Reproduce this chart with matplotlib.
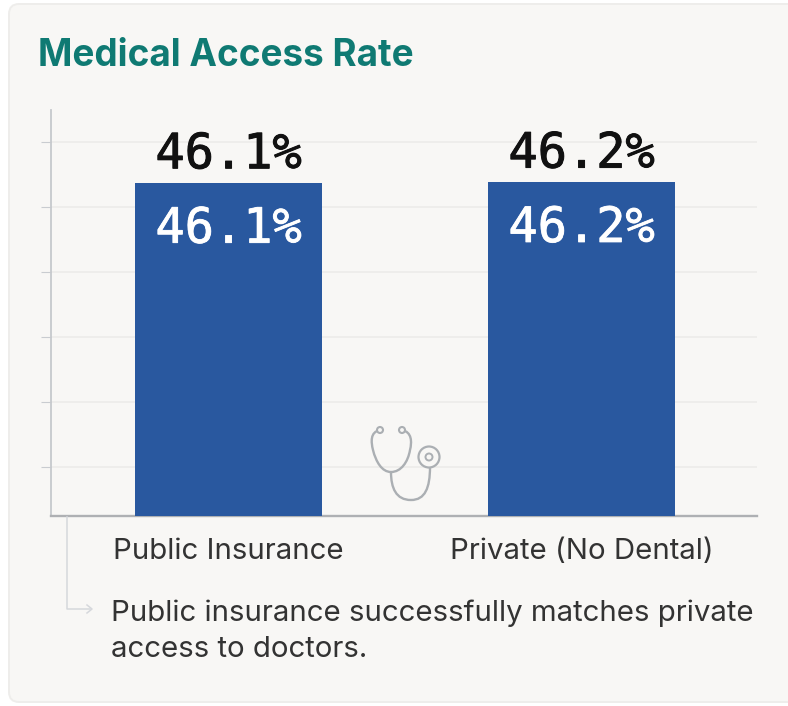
import matplotlib
matplotlib.use("Agg")
import matplotlib.pyplot as plt
import matplotlib.patheffects as pe
from matplotlib.patches import FancyBboxPatch, Circle
from matplotlib.path import Path
from matplotlib.patches import PathPatch

categories = ["Public Insurance", "Private (No Dental)"]
values = [46.1, 46.2]
value_labels = ["46.1%", "46.2%"]
grid_levels = [6.8, 15.8, 24.8, 33.8, 42.8, 51.8]
title = "Medical Access Rate"
note = "Public insurance successfully matches private\naccess to doctors."

W, H = 788, 706
BG = "#F8F7F5"
BLUE = "#29589F"
TEAL = "#0F7A73"

fig = plt.figure(figsize=(W / 100, H / 100), dpi=100, facecolor="white")

# pixel-space overlay for card and decorations
bgax = fig.add_axes([0, 0, 1, 1], zorder=0)
bgax.set_xlim(0, W); bgax.set_ylim(H, 0); bgax.axis("off")
bgax.add_patch(FancyBboxPatch((9, 4), W + 30, 698, boxstyle="round,pad=0,rounding_size=10",
                              fc=BG, ec="#EEEDEB", lw=1.4))

L, R, B, T = 51, 757, 516, 110
ax = fig.add_axes([L / W, 1 - B / H, (R - L) / W, (B - T) / H], zorder=1)
ax.patch.set_alpha(0)
ax.set_xlim(-0.503, 1.497)
ax.set_ylim(0, (B - T) / 7.22)
ax.bar(range(len(values)), values, width=0.53, color=BLUE, zorder=3)
ax.set_yticks(grid_levels)
ax.set_yticklabels([])
ax.tick_params(axis="y", length=7, width=0.8, color="#C9CCD0")
ax.tick_params(axis="x", length=0, pad=15.5)
ax.set_xticks(range(len(categories)))
ax.set_xticklabels(categories, fontsize=21.2, color="#333333", family="Inter")
ax.grid(axis="y", color="#ECECEA", lw=1.2, zorder=1)
for s in ["top", "right"]:
    ax.spines[s].set_visible(False)
ax.spines["left"].set_color("#C6C9CD")
ax.spines["left"].set_linewidth(1.3)
ax.spines["bottom"].set_color("#AEB0B3")
ax.spines["bottom"].set_linewidth(1.7)

for i, (v, lab) in enumerate(zip(values, value_labels)):
    ax.annotate(lab, (i, v), xytext=(0, 3.5), textcoords="offset points", ha="center", va="bottom",
                fontsize=35, family="DejaVu Sans Mono", color="#111111",
                path_effects=[pe.withStroke(linewidth=0.7, foreground="#111111")])
    ax.annotate(lab, (i, v), xytext=(0, -15.5), textcoords="offset points", ha="center", va="top",
                fontsize=35, family="DejaVu Sans Mono", color="white",
                path_effects=[pe.withStroke(linewidth=0.6, foreground="white")])

fg = fig.add_axes([0, 0, 1, 1], zorder=2)
fg.set_xlim(0, W); fg.set_ylim(H, 0); fg.axis("off"); fg.patch.set_alpha(0)
fg.text(38, 56, title, fontsize=26.6, fontweight="bold", color=TEAL, family="Inter", va="center", ha="left")
fg.text(111, 631, note, fontsize=21.2, color="#333333", family="Inter", va="center", ha="left", linespacing=1.42)

# connector from axis to note
fg.plot([67, 67, 90], [517, 609, 609], color="#D6D8DC", lw=1.1)
fg.plot([87, 92, 87], [605, 609, 613], color="#D6D8DC", lw=1.1)

# stethoscope icon
c = "#ABAFB3"
M, C4 = Path.MOVETO, Path.CURVE4
def curve(pts, lw=1.7):
    codes = [M] + [C4] * (len(pts) - 1)
    fg.add_patch(PathPatch(Path(pts, codes), fc="none", ec=c, lw=lw))
curve([(380, 430), (370, 432), (371, 442), (373, 450),
       (376, 462), (382, 472), (391, 472),
       (401, 472), (408, 462), (410, 450),
       (412, 442), (412, 432), (402, 430)])
curve([(391, 472), (391, 488), (396, 500), (411, 500),
       (425, 500), (430, 488), (430, 467)])
for (x, y, r) in [(380, 430, 3), (402, 430, 3)]:
    fg.add_patch(Circle((x, y), r, fc=BG, ec=c, lw=1.5))
fg.add_patch(Circle((429, 457), 10.5, fc=BG, ec=c, lw=1.6))
fg.add_patch(Circle((429, 457), 3.5, fc=BG, ec=c, lw=1.4))

fig.savefig("out.png", dpi=100, facecolor=fig.get_facecolor())
